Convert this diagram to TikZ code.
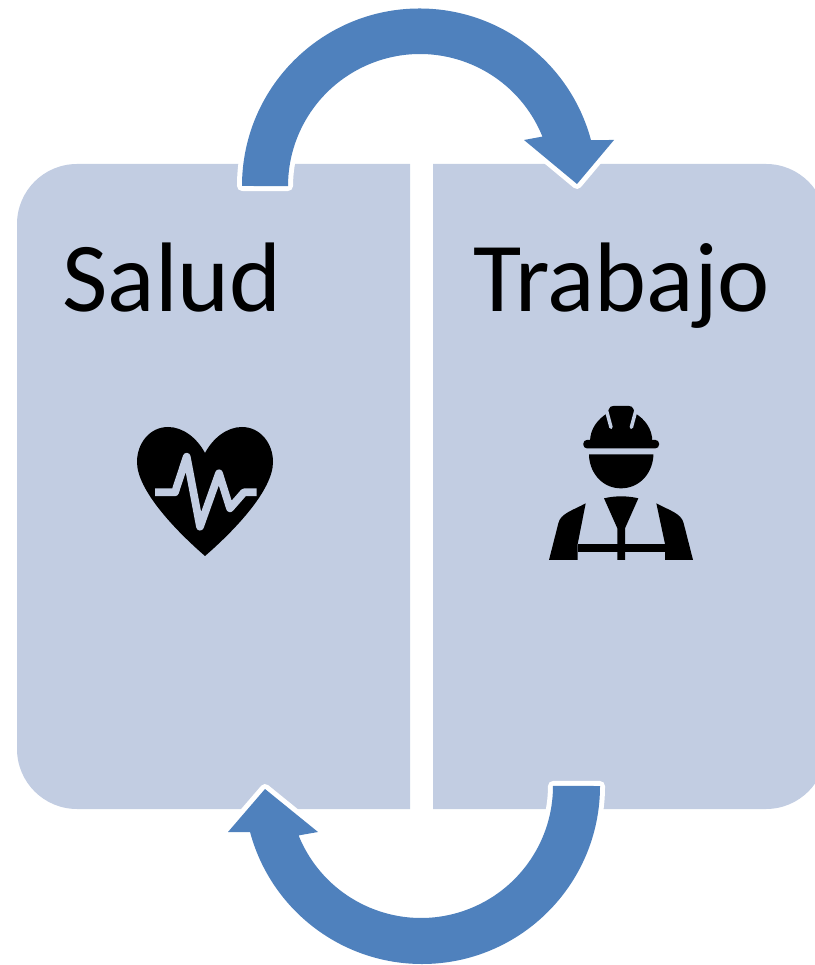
\documentclass[tikz,border=0pt]{standalone}
\usepackage{fontspec}
\setmainfont{Carlito}
\definecolor{panelblue}{HTML}{C2CDE2}
\definecolor{arrowblue}{HTML}{4F81BD}
\begin{document}
\begin{tikzpicture}[x=0.01cm,y=-0.01cm,line join=round]
\tikzset{blockarrow/.style={fill=arrowblue,preaction={draw=white,line width=2.85pt}}}
\tikzset{title/.style={font=\fontsize{28.1}{30}\selectfont,inner sep=0pt,anchor=base}}
\useasboundingbox (0,0) rectangle (814,965);
\foreach \i/\j in {410/17,433/826}
{
	\fill[panelblue] (\i,164) -- (\i,809) [rounded corners=0.6cm] -- (\j,809) -- (\j,164) [sharp corners] -- (\i,164) -- cycle;
}
\path[blockarrow] (242,186) arc (180:345:177.5) -- (614,140) -- (577,184) -- (524,140) -- (542.4,136.6) arc (338:180:132) -- cycle;
\path[blockarrow] (600,786) arc (0:165:178) -- (228,832) -- (265,789) -- (318,832) -- (298.6,835.4) arc (158:0:132) -- cycle;
\node[title] (salud) at (172,311.5) {Salud};
\node[title] (trabajo) at (621.5,311.5) {Trabajo};
% heart
\fill (205,453) .. controls (197,438) and (183,427) .. (168,427) .. controls (150,427) and (137,443) .. (137,462) .. controls (137,490) and (175,530) .. (205,556) .. controls (235,530) and (273,490) .. (273,462) .. controls (273,443) and (260,427) .. (242,427) .. controls (227,427) and (213,438) .. (205,453) -- cycle;
\draw[panelblue,line width=2.2pt] (155,492.3) -- (175,492.3) -- (186.7,456.7) -- (200,526.7) -- (219,473.3) -- (230,508.3) -- (244,492.3) -- (256.7,492.3);
% worker
\begin{scope}[shift={(535,395)},scale=1/3]
\fill[rounded corners=0.035cm] (145,135) rectangle (372,160);
\fill (165,140) .. controls (165,100) and (190,72) .. (215,56) -- (222,42) .. controls (224,36) and (228,33) .. (235,33) -- (282,33) .. controls (289,33) and (293,36) .. (295,42) -- (302,56) .. controls (328,72) and (352,100) .. (352,140) -- cycle;
\foreach \i/\j in {214/228,303/289}
{
	\draw[panelblue,line width=1pt,line cap=round] (\i,45) -- (\j,97);
}
\fill (162,178) -- (355,178) -- (355,185) .. controls (350,240) and (310,280) .. (258,280) .. controls (206,280) and (167,240) .. (162,185) -- cycle;
\fill (207,310) .. controls (240,302) and (277,302) .. (310,310) -- (270,400) -- (270,495) -- (247,495) -- (247,400) -- cycle;
\fill (128,447) rectangle (390,472);
\fill (152,325) -- (128,447) -- (128,495) -- (42,495) -- (70,385) .. controls (76,355) and (116,345) .. (152,325) -- cycle;
\fill (364,325) -- (390,447) -- (390,495) -- (474,495) -- (446,385) .. controls (440,355) and (400,345) .. (364,325) -- cycle;
\end{scope}
\end{tikzpicture}
\end{document}
